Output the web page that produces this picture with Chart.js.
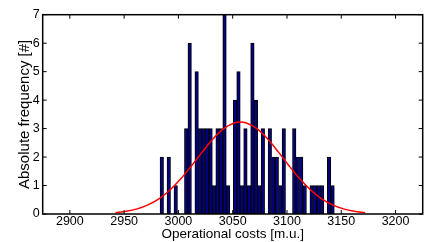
<!DOCTYPE html>
<html>
<head>
<meta charset="utf-8">
<script src="https://cdn.jsdelivr.net/npm/chart.js@4"></script>
<style>
  html, body { margin: 0; padding: 0; background: #fff; }
  #wrap { width: 438px; height: 242px; }
</style>
</head>
<body>
<div id="wrap"><canvas id="grafico"></canvas></div>
<script>
// histogram bins (centre of each bin, m.u.) and counts
const binCenters = [
  2984.70, 2987.91, 2991.12, 2994.33, 2997.54, 3000.75, 3003.96, 3007.17, 3010.38, 3013.59,
  3016.80, 3020.01, 3023.22, 3026.43, 3029.64, 3032.85, 3036.06, 3039.27, 3042.48, 3045.69,
  3048.90, 3052.11, 3055.32, 3058.53, 3061.74, 3064.95, 3068.16, 3071.37, 3074.58, 3077.79,
  3081.00, 3084.21, 3087.42, 3090.63, 3093.84, 3097.05, 3100.26, 3103.47, 3106.68, 3109.89,
  3113.10, 3116.31, 3119.52, 3122.73, 3125.94, 3129.15, 3132.36, 3135.57, 3138.78, 3141.99
];
const counts = [
  2, 0, 2, 0, 1, 0, 0, 3, 6, 0,
  5, 3, 3, 3, 3, 1, 3, 3, 7, 1,
  0, 4, 5, 1, 3, 1, 6, 4, 1, 3,
  0, 3, 2, 2, 1, 3, 0, 0, 3, 2,
  2, 1, 0, 1, 1, 1, 1, 0, 2, 1
];

// fitted normal curve
const fitX = [2942, 2952, 2962, 2972, 2982, 2992, 3002, 3012, 3022, 3032, 3042, 3052, 3057,
              3062, 3072, 3082, 3092, 3102, 3112, 3122, 3132, 3142, 3152, 3162, 3172];
const fitY = [0.047, 0.094, 0.179, 0.319, 0.532, 0.834, 1.226, 1.688, 2.182, 2.644, 3.005, 3.204, 3.23,
              3.204, 3.005, 2.644, 2.182, 1.688, 1.226, 0.834, 0.532, 0.319, 0.179, 0.094, 0.047];

const xTicks = [2900, 2950, 3000, 3050, 3100, 3150, 3200];
const yTicks = [0, 1, 2, 3, 4, 5, 6, 7];

const fontFamily = '"Liberation Sans", Arial, Helvetica, sans-serif';

// MATLAB style box with inward ticks on all four sides
const boxPlugin = {
  id: 'box',
  afterDatasetsDraw(chart) {
    const { ctx, chartArea: a, scales: { x, y } } = chart;
    ctx.save();
    ctx.strokeStyle = '#000';
    ctx.lineWidth = 1;
    ctx.beginPath();
    x.ticks.forEach(t => {
      const px = x.getPixelForValue(t.value);
      ctx.moveTo(px, a.bottom); ctx.lineTo(px, a.bottom - 4);
      ctx.moveTo(px, a.top); ctx.lineTo(px, a.top + 4);
    });
    y.ticks.forEach(t => {
      const py = y.getPixelForValue(t.value);
      ctx.moveTo(a.left, py); ctx.lineTo(a.left + 4, py);
      ctx.moveTo(a.right, py); ctx.lineTo(a.right - 4, py);
    });
    ctx.stroke();
    ctx.lineWidth = 1.5;
    ctx.strokeRect(a.left, a.top, a.right - a.left, a.bottom - a.top);
    ctx.restore();
  }
};

const ctx = document.getElementById('grafico').getContext('2d');

new Chart(ctx, {
  data: {
    datasets: [
      {
        type: 'line',
        data: fitX.map((v, i) => ({ x: v, y: fitY[i] })),
        borderColor: '#ff0000',
        borderWidth: 1.5,
        pointRadius: 0,
        cubicInterpolationMode: 'monotone',
        order: 0
      },
      {
        type: 'bar',
        data: binCenters.map((v, i) => ({ x: v, y: counts[i] })),
        backgroundColor: '#000080',
        borderColor: '#000000',
        borderWidth: 1,
        borderSkipped: false,
        barPercentage: 1,
        categoryPercentage: 1,
        order: 1
      }
    ]
  },
  options: {
    responsive: true,
    maintainAspectRatio: false,
    animation: false,
    layout: {
      padding: { left: 0, right: 15.3, top: 14.7, bottom: 0 }
    },
    plugins: {
      legend: { display: false },
      tooltip: { enabled: false }
    },
    scales: {
      x: {
        type: 'linear',
        min: 2900,
        max: 3200,
        afterBuildTicks: s => { s.ticks = xTicks.map(v => ({ value: v })); },
        afterFit: s => { s.height = 28; },
        grid: { display: false, drawTicks: false },
        border: { display: false },
        ticks: {
          color: '#000',
          padding: 0,
          maxRotation: 0,
          callback: v => String(v),
          font: { family: fontFamily, size: 12.5 }
        },
        title: {
          display: true,
          text: 'Operational costs [m.u.]',
          color: '#000',
          padding: { top: 0, bottom: 0 },
          font: { family: fontFamily, size: 13.5 }
        }
      },
      y: {
        min: 0,
        max: 7,
        afterBuildTicks: s => { s.ticks = yTicks.map(v => ({ value: v })); },
        afterFit: s => { s.width = 42.7; },
        grid: { display: false, drawTicks: false },
        border: { display: false },
        ticks: {
          color: '#000',
          padding: 3,
          callback: v => String(v),
          font: { family: fontFamily, size: 12.5 }
        },
        title: {
          display: true,
          text: 'Absolute frequency [#]',
          color: '#000',
          padding: { top: 16, bottom: 0 },
          font: { family: fontFamily, size: 15 }
        }
      }
    }
  },
  plugins: [boxPlugin]
});
</script>
</body>
</html>
